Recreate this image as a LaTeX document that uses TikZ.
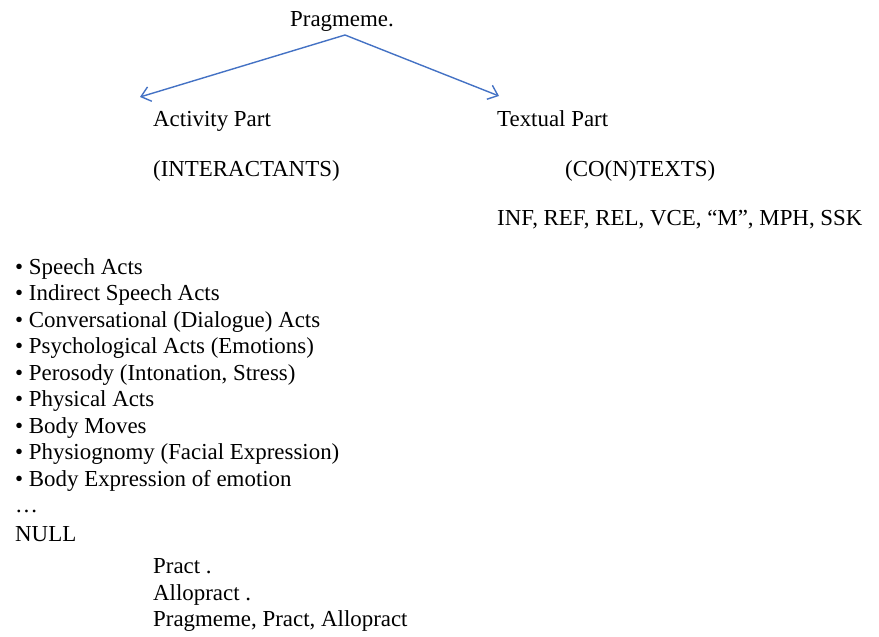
\documentclass[tikz,border=0pt]{standalone}
\usepackage{fontspec}
\setmainfont{Liberation Serif}
\usetikzlibrary{arrows.meta}
\definecolor{arrowblue}{RGB}{68,114,196}
\begin{document}
\begin{tikzpicture}[x=1pt,y=-1pt,
  txt/.style={anchor=base west,inner sep=0pt,font=\fontsize{22.9}{26.5}\selectfont},
  conn/.style={draw=arrowblue,line width=1.4pt,-{Straight Barb[length=9pt,width=15pt,line width=1.4pt]}}]
\useasboundingbox (0,0) rectangle (879,637);
\node[txt] (prag) at (290,27) {Pragmeme.};
\node[txt] (act) at (153,126) {Activity Part};
\node[txt] (textual) at (497,126) {Textual Part};
\node[txt] (inter) at (153,176) {(INTERACTANTS)};
\node[txt] (contexts) at (565,176) {(CO(N)TEXTS)};
\node[txt] (inf) at (497,225) {INF, REF, REL, VCE, “M”, MPH, SSK};
\node[txt] (b1) at (15,274) {• Speech Acts};
\node[txt] (b2) at (15,300.5) {• Indirect Speech Acts};
\node[txt] (b3) at (15,327) {• Conversational (Dialogue) Acts};
\node[txt] (b4) at (15,353.5) {• Psychological Acts (Emotions)};
\node[txt] (b5) at (15,380) {• Perosody (Intonation, Stress)};
\node[txt] (b6) at (15,406.5) {• Physical Acts};
\node[txt] (b7) at (15,433) {• Body Moves};
\node[txt] (b8) at (15,459.5) {• Physiognomy (Facial Expression)};
\node[txt] (b9) at (15,486) {• Body Expression of emotion};
\node[txt] (dots) at (15,512) {…};
\node[txt] (null) at (15,541) {NULL};
\node[txt] (pract) at (153,573) {Pract .};
\node[txt] (allo) at (153,600) {Allopract .};
\node[txt] (all) at (153,626) {Pragmeme, Pract, Allopract};
\coordinate (apex) at (345,35);
\coordinate (tipL) at (140,97);
\coordinate (tipR) at (499,96);
\draw[conn] (apex) -- (tipL);
\draw[conn] (apex) -- (tipR);
\end{tikzpicture}
\end{document}
